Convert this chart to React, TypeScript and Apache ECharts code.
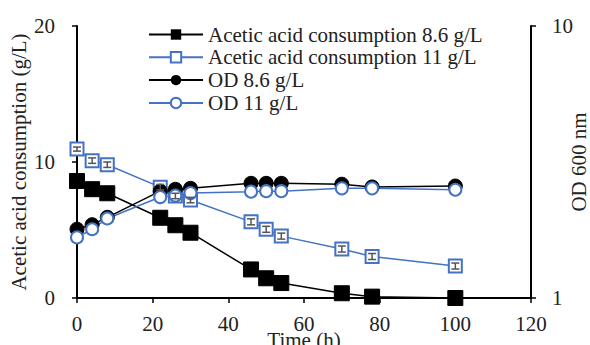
import React, { useEffect, useRef } from "react";
import * as echarts from "echarts";

const times = [0, 4, 8, 22, 26, 30, 46, 50, 54, 70, 78, 100];
const acetic86 = [8.6, 8.0, 7.7, 5.9, 5.35, 4.8, 2.1, 1.45, 1.1, 0.35, 0.1, 0.0];
const acetic11 = [10.95, 10.1, 9.8, 8.15, 7.5, 7.2, 5.6, 5.05, 4.55, 3.6, 3.05, 2.35];
const acetic11Err = [0.15, 0.2, 0.2, 0.2, 0.2, 0.2, 0.22, 0.22, 0.22, 0.22, 0.22, 0.22];
const od86 = [1.79, 1.86, 1.98, 2.47, 2.51, 2.53, 2.64, 2.64, 2.64, 2.62, 2.56, 2.58];
const od11 = [1.67, 1.79, 1.96, 2.35, 2.38, 2.43, 2.46, 2.47, 2.47, 2.53, 2.53, 2.5];
const legendNames = [
  "Acetic acid consumption 8.6 g/L",
  "Acetic acid consumption 11 g/L",
  "OD 8.6 g/L",
  "OD 11 g/L",
];

const BLUE = "#4472C4";
const FONT = "Liberation Serif";
const TXT = "#222";
const FS = 21;

export default function App() {
  const ref = useRef<HTMLDivElement>(null);
  useEffect(() => {
    const chart = echarts.init(ref.current!, null, { renderer: "svg" });
    const pair = (vals: number[]) => times.map((t, i) => [t, vals[i]]);
    chart.setOption({
      animation: false,
      textStyle: { fontFamily: FONT },
      grid: { left: 77, right: 59, top: 26, bottom: 47, outerBoundsMode: "none", containLabel: false },
      legend: {
        orient: "vertical",
        left: 143,
        top: 19,
        itemWidth: 54,
        itemHeight: 13,
        itemGap: 1.8,
        textStyle: { fontFamily: FONT, fontSize: FS, color: TXT },
        data: legendNames,
      },
      xAxis: {
        type: "value",
        min: 0,
        max: 120,
        interval: 20,
        splitLine: { show: false },
        axisLine: { lineStyle: { color: "#000", width: 2 } },
        axisTick: { show: true, length: 5, lineStyle: { color: "#000", width: 1.5 } },
        axisLabel: { fontFamily: FONT, fontSize: FS, color: TXT, margin: 15 },
        name: "Time (h)",
        nameLocation: "middle",
        nameGap: 31,
        nameMoveOverlap: false,
        nameTextStyle: { fontFamily: FONT, fontSize: FS, color: TXT },
      },
      yAxis: [
        {
          type: "value",
          min: 0,
          max: 20,
          interval: 10,
          splitLine: { show: false },
          axisLine: { show: true, lineStyle: { color: "#000", width: 2 } },
          axisTick: { show: true, length: 5, lineStyle: { color: "#000", width: 1.5 } },
          axisLabel: { fontFamily: FONT, fontSize: FS, color: TXT, margin: 22 },
          name: "Acetic acid consumption (g/L)",
          nameLocation: "middle",
          nameGap: 48,
          nameMoveOverlap: false,
          nameRotate: 90,
          nameTextStyle: { fontFamily: FONT, fontSize: FS, color: TXT },
        },
        {
          type: "log",
          logBase: 10,
          min: 1,
          max: 10,
          position: "right",
          splitLine: { show: false },
          axisLine: { show: true, lineStyle: { color: "#000", width: 2 } },
          axisTick: { show: true, length: 5, lineStyle: { color: "#000", width: 1.5 } },
          minorTick: { show: false },
          axisLabel: { fontFamily: FONT, fontSize: FS, color: TXT, margin: 21 },
          name: "OD 600 nm",
          nameLocation: "middle",
          nameGap: 37,
          nameMoveOverlap: false,
          nameRotate: 90,
          nameTextStyle: { fontFamily: FONT, fontSize: FS, color: TXT },
        },
      ],
      series: [
        {
          name: legendNames[0],
          type: "line",
          yAxisIndex: 0,
          data: pair(acetic86),
          symbol: "rect",
          symbolSize: 15,
          lineStyle: { color: "#000", width: 1.5 },
          itemStyle: { color: "#000", borderColor: "#000" },
        },
        {
          name: legendNames[1],
          type: "line",
          yAxisIndex: 0,
          data: pair(acetic11),
          symbol: "rect",
          symbolSize: 13,
          lineStyle: { color: BLUE, width: 1.5 },
          itemStyle: { color: "#fff", borderColor: BLUE, borderWidth: 2 },
        },
        {
          type: "custom",
          yAxisIndex: 0,
          z: 5,
          silent: true,
          data: times.map((t, i) => [t, acetic11[i] - acetic11Err[i], acetic11[i] + acetic11Err[i]]),
          renderItem: (params: any, api: any) => {
            const x = api.value(0);
            const lo = api.coord([x, api.value(1)]);
            const hi = api.coord([x, api.value(2)]);
            const w = 4;
            const st = { stroke: "#555", lineWidth: 1.5 };
            return {
              type: "group",
              children: [
                { type: "line", shape: { x1: lo[0], y1: lo[1], x2: hi[0], y2: hi[1] }, style: st },
                { type: "line", shape: { x1: lo[0] - w, y1: lo[1], x2: lo[0] + w, y2: lo[1] }, style: st },
                { type: "line", shape: { x1: hi[0] - w, y1: hi[1], x2: hi[0] + w, y2: hi[1] }, style: st },
              ],
            };
          },
        },
        {
          name: legendNames[2],
          type: "line",
          yAxisIndex: 1,
          data: pair(od86),
          symbol: "circle",
          symbolSize: 14,
          lineStyle: { color: "#000", width: 1.5 },
          itemStyle: { color: "#000", borderColor: "#000" },
        },
        {
          name: legendNames[3],
          type: "line",
          yAxisIndex: 1,
          data: pair(od11),
          symbol: "circle",
          symbolSize: 12,
          lineStyle: { color: BLUE, width: 1.5 },
          itemStyle: { color: "#fff", borderColor: BLUE, borderWidth: 2 },
        },
      ],
    });
    return () => chart.dispose();
  }, []);
  return (
    <div
      ref={ref}
      style={{ position: "absolute", left: 0, top: 0, width: 590, height: 345 }}
    />
  );
}
